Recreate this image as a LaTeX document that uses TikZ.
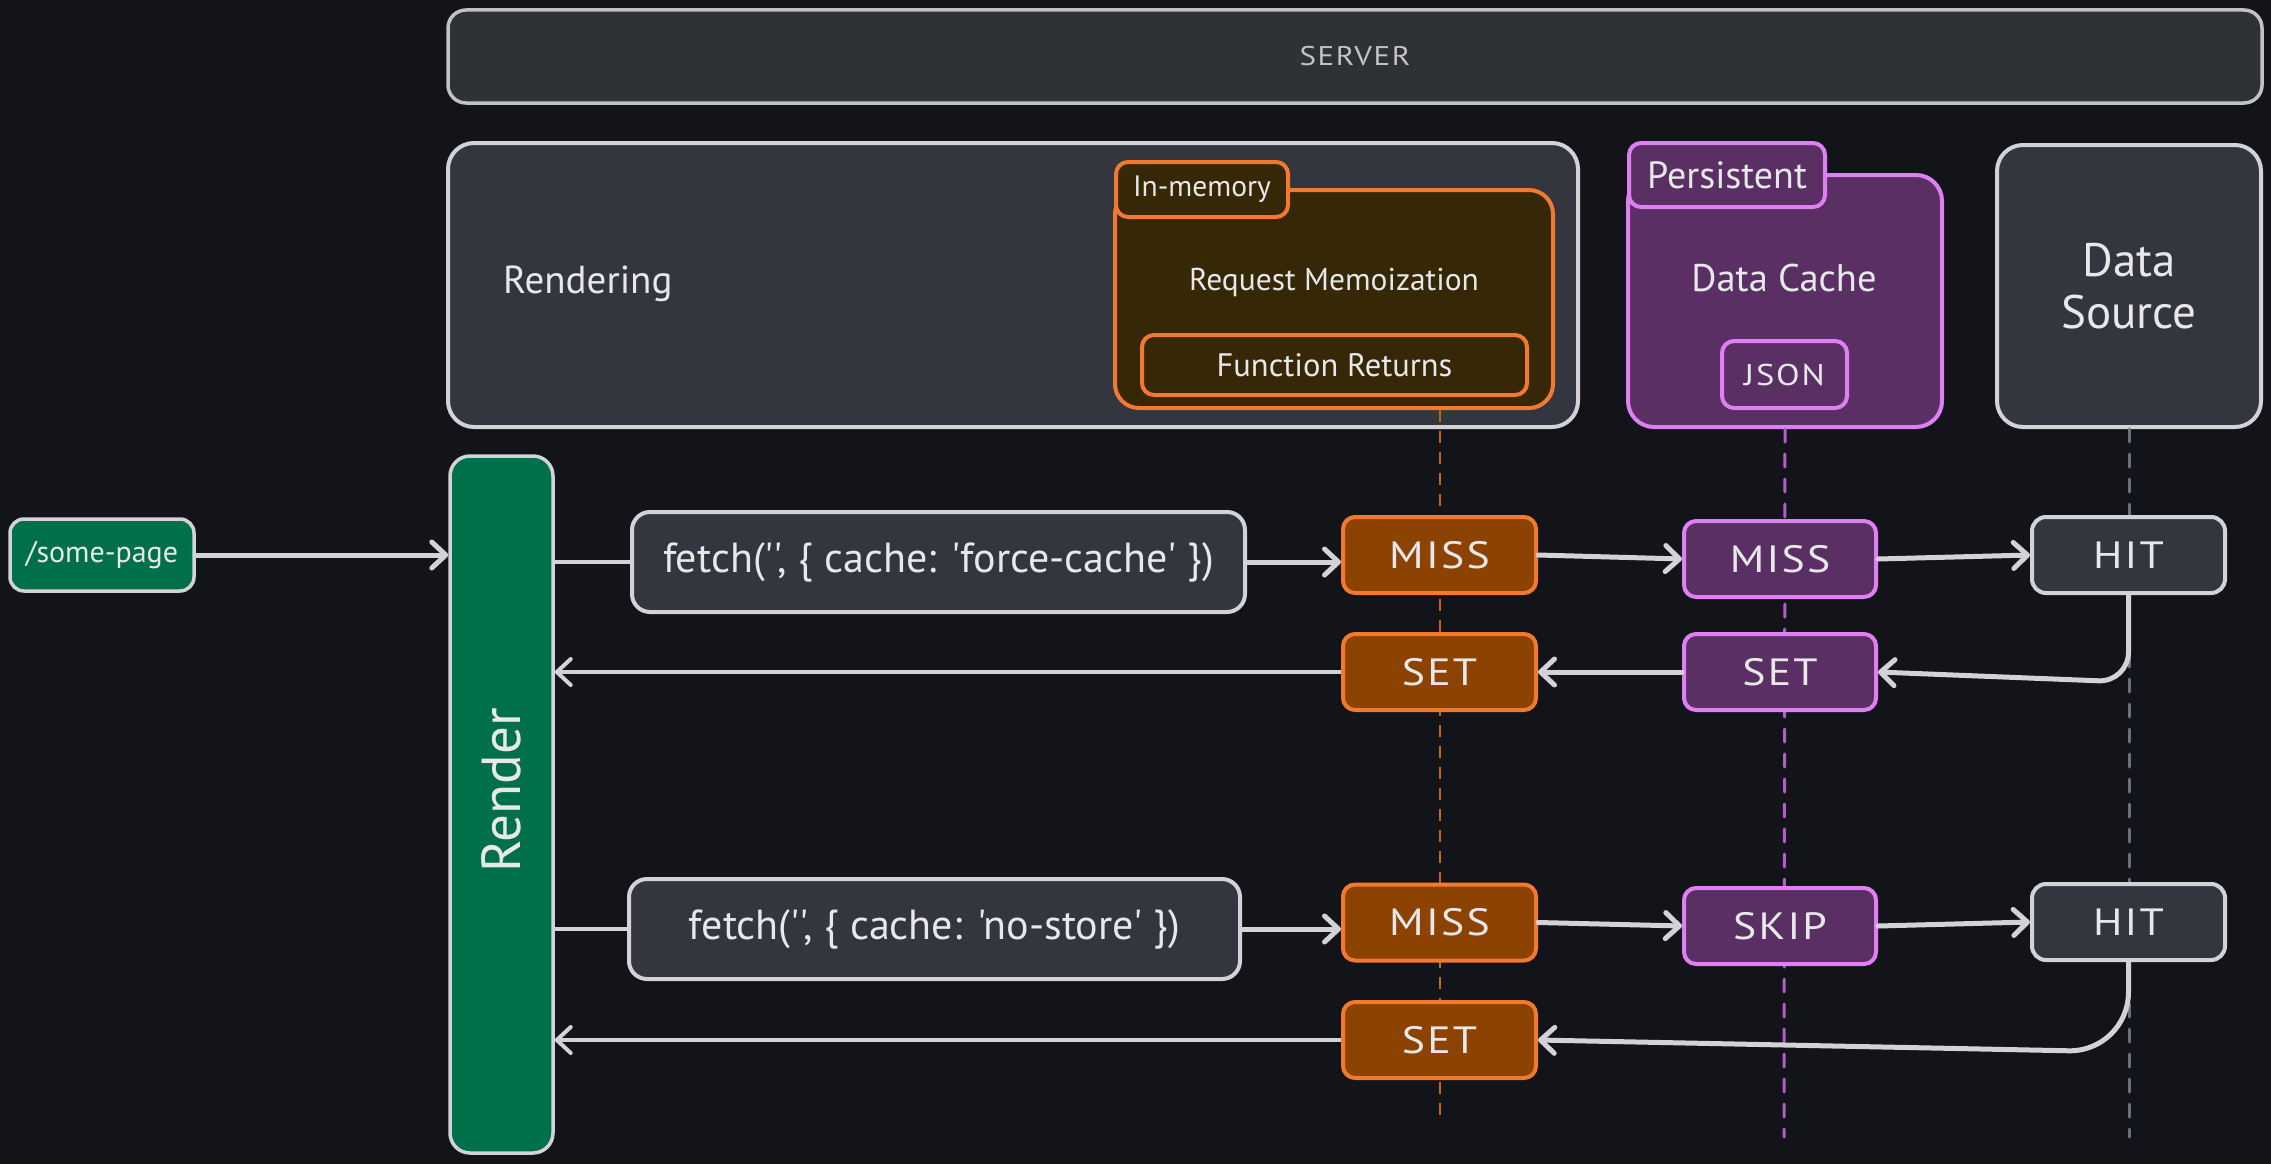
\documentclass[tikz,border=0pt]{standalone}
\usepackage{fontspec}
\newfontfamily\hand{PT Sans}
\newfontfamily\handcaps{PT Sans}[FakeStretch=1.15,LetterSpace=6]
\usetikzlibrary{arrows.meta}

\definecolor{bg}{HTML}{121419}
\definecolor{servfill}{HTML}{2E3237}
\definecolor{servline}{HTML}{C2C2C6}
\definecolor{panel}{HTML}{33363F}
\definecolor{linec}{HTML}{D3D3D7}
\definecolor{txt}{HTML}{E8E8EA}
\definecolor{orfill}{HTML}{8C4200}
\definecolor{orline}{HTML}{F2792F}
\definecolor{memfill}{HTML}{362706}
\definecolor{purfill}{HTML}{5A2F63}
\definecolor{purline}{HTML}{DF7FF2}
\definecolor{purdash}{HTML}{B25DC9}
\definecolor{greydash}{HTML}{6C7078}
\definecolor{ordash}{HTML}{C8660F}
\definecolor{greenfill}{HTML}{00704A}

\tikzset{
  sz/.style 2 args={minimum width=#1pt, minimum height=#2pt},
  base/.style={rectangle, inner sep=0pt, text=txt},
  panelbox/.style={base, draw=linec, fill=panel, line width=4pt, rounded corners=26pt},
  greybox/.style={base, draw=linec, fill=panel, line width=4pt, rounded corners=14pt},
  orbox/.style={base, draw=orline, fill=orfill, line width=4pt, rounded corners=12pt},
  purbox/.style={base, draw=purline, fill=purfill, line width=4pt, rounded corners=12pt},
  greenbox/.style={base, draw=linec, fill=greenfill, line width=3.5pt, rounded corners=14pt},
  statfont/.style={font=\handcaps\fontsize{38}{40}\selectfont},
  conn/.style={draw=linec, line width=3.5pt},
  arr/.style={draw=linec, line width=5pt, line cap=round,
    -{Straight Barb[round, length=14pt, width=26pt]}},
  thinarr/.style={draw=linec, line width=4pt,
    -{Straight Barb[round, length=14pt, width=26pt]}},
}

\begin{document}
\begin{tikzpicture}[x=1pt, y=-1pt]
  % canvas
  \fill[bg] (0,0) rectangle (2271,1164);
  \useasboundingbox (0,0) rectangle (2271,1164);

  % server banner
  \node[base, sz={1814}{93}, draw=servline, fill=servfill, line width=3.5pt,
        rounded corners=18pt, text=servline,
        font=\handcaps\fontsize{27}{30}\selectfont] (server) at (1355,56.5) {SERVER};

  % rendering container
  \node[panelbox, sz={1130}{284}] (rendering) at (1013,285) {};
  \node[base, font=\hand\fontsize{39}{42}\selectfont, anchor=west] (renderlbl) at (503,284) {Rendering};

  % request memoization (in-memory)
  \node[base, sz={438}{218}, draw=orline, fill=memfill, line width=4pt, rounded corners=24pt] (mem) at (1334,299) {};
  \node[base, sz={172}{55}, draw=orline, fill=memfill, line width=4pt, rounded corners=12pt,
        font=\hand\fontsize{29.5}{32}\selectfont] (memtab) at (1202,189.5) {In-memory};
  \node[base, font=\hand\fontsize{31.5}{34}\selectfont] (memlbl) at (1334,282) {Request Memoization};
  \node[base, sz={385}{60}, draw=orline, fill=memfill, line width=4pt, rounded corners=12pt,
        font=\hand\fontsize{32.5}{35}\selectfont] (funcret) at (1334.5,365) {Function Returns};

  % data cache (persistent)
  \node[purbox, sz={314}{252}, rounded corners=26pt] (dc) at (1785,301) {};
  \node[purbox, sz={196}{64}, font=\hand\fontsize{38}{40}\selectfont] (dctab) at (1727,175) {Persistent};
  \node[base, font=\hand\fontsize{38.5}{41}\selectfont] (dclbl) at (1784,278) {Data Cache};
  \node[purbox, sz={125}{67}, font=\handcaps\fontsize{30}{33}\selectfont] (json) at (1784.5,374.5) {JSON};

  % data source
  \node[panelbox, sz={264}{282}, align=center, font=\hand\fontsize{47}{52}\selectfont] (dsrc) at (2129,286) {Data\\Source};

  % lifelines
  \coordinate (oend) at (1439.5,1122);
  \coordinate (pend) at (1784,1137);
  \coordinate (gend) at (2129,1137);
  \draw[ordash, line width=2pt, dash pattern=on 12pt off 9pt] (oend |- mem.south) -- (oend);
  \draw[purdash, line width=3pt, line cap=round, dash pattern=on 13pt off 12pt] (dc.south) -- (pend);
  \draw[greydash, line width=3pt, line cap=round, dash pattern=on 13pt off 12pt] (dsrc.south) -- (gend);

  % client page and render bar
  \node[greenbox, sz={184}{72}, font=\hand\fontsize{30}{33}\selectfont] (page) at (102,555) {/some-page};
  \node[greenbox, sz={103}{697}, rounded corners=20pt] (render) at (501.5,804.5) {};
  \node[base, rotate=90, font=\hand\fontsize{55}{58}\selectfont] (renderlbl2) at (501.5,790) {Render};

  % first request
  \node[greybox, sz={613}{100}, rounded corners=18pt, font=\hand\fontsize{42}{45}\selectfont] (fetcha) at (938.5,562) {fetch('', \{ cache: 'force-cache' \})};
  \node[orbox, sz={193}{76}, statfont] (missa) at (1439.5,555) {MISS};
  \node[purbox, sz={192}{76}, statfont] (missb) at (1780,559) {MISS};
  \node[greybox, sz={193}{76}, statfont] (hita) at (2128.5,555) {HIT};
  \node[orbox, sz={193}{76}, statfont] (seta) at (1439.5,672) {SET};
  \node[purbox, sz={192}{76}, statfont] (setb) at (1780,672) {SET};

  % second request
  \node[greybox, sz={611}{100}, rounded corners=18pt, font=\hand\fontsize{42}{45}\selectfont] (fetchb) at (934.5,929) {fetch('', \{ cache: 'no-store' \})};
  \node[orbox, sz={193}{76}, statfont] (missc) at (1439.5,922.5) {MISS};
  \node[purbox, sz={192}{76}, statfont] (skip) at (1780,926) {SKIP};
  \node[greybox, sz={193}{76}, statfont] (hitb) at (2128.5,922) {HIT};
  \node[orbox, sz={193}{76}, statfont] (setc) at (1439.5,1040) {SET};

  % connectors
  \draw[arr] (page.east) -- (page.east -| render.west);

  \draw[conn] (fetcha.west -| render.east) -- (fetcha.west);
  \draw[arr] (fetcha.east) -- (fetcha.east -| missa.west);
  \draw[arr] (missa.east) -- (missb.west);
  \draw[arr] (missb.east) -- (hita.west);
  \draw[arr, rounded corners=30pt] (hita.south) -- ++(0,87) -- (setb.east);
  \draw[arr] (setb.west) -- (seta.east);
  \draw[thinarr] (seta.west) -- (seta.west -| render.east);

  \draw[conn] (fetchb.west -| render.east) -- (fetchb.west);
  \draw[arr] (fetchb.east) -- (fetchb.east -| missc.west);
  \draw[arr] (missc.east) -- (skip.west);
  \draw[arr] (skip.east) -- (hitb.west);
  \draw[arr, rounded corners=60pt] (hitb.south) -- ++(0,90) -- (setc.east);
  \draw[thinarr] (setc.west) -- (setc.west -| render.east);
\end{tikzpicture}
\end{document}
